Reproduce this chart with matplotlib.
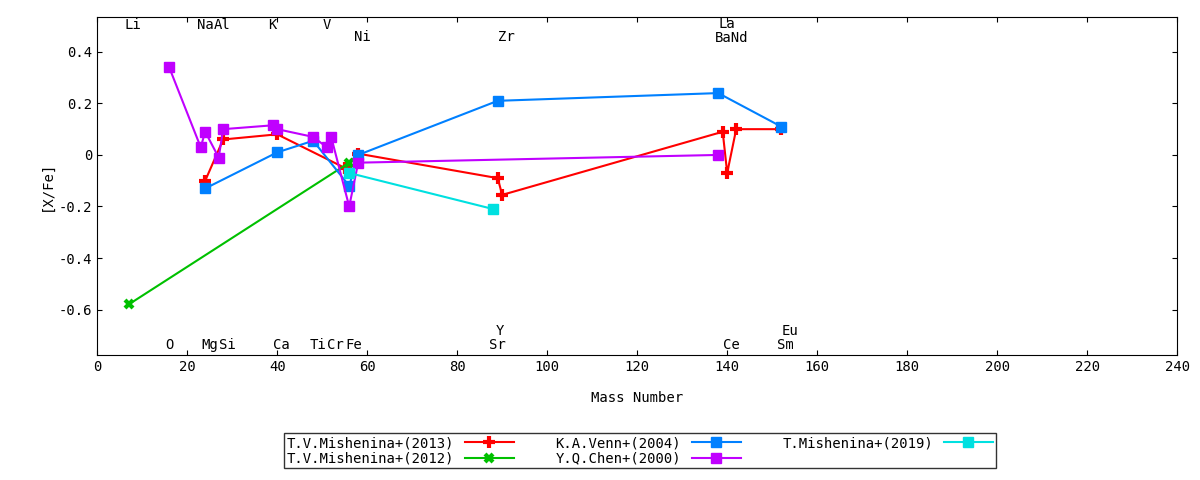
import matplotlib.pyplot as plt

plt.rcParams['font.family'] = ['DejaVu Sans Mono']
plt.rcParams['font.size'] = 10

red_x = [24, 28, 40, 55, 58, 89, 90, 139, 140, 142, 152]
red_y = [-0.10, 0.06, 0.08, -0.05, 0.005, -0.09, -0.155, 0.09, -0.07, 0.10, 0.10]
green_x = [7, 56]
green_y = [-0.58, -0.03]
blue_x = [24, 40, 48, 56, 58, 89, 138, 152]
blue_y = [-0.13, 0.01, 0.055, -0.12, 0.0, 0.21, 0.24, 0.11]
purple_x = [16, 23, 24, 27, 28, 39, 40, 48, 51, 52, 56, 58, 138]
purple_y = [0.34, 0.03, 0.09, -0.01, 0.10, 0.115, 0.10, 0.07, 0.03, 0.07, -0.20, -0.03, 0.0]
cyan_x = [56, 88]
cyan_y = [-0.07, -0.21]

top_labels = [("Li", 8, 0.505), ("Na", 24, 0.505), ("Al", 27.8, 0.505), ("K", 39, 0.505),
              ("V", 51, 0.505), ("La", 140, 0.51), ("Ni", 59, 0.458), ("Zr", 91, 0.458),
              ("BaNd", 141, 0.455)]
bottom_labels = [("O", 16, -0.738), ("Mg", 25, -0.738), ("Si", 29, -0.738), ("Ca", 41, -0.738),
                 ("Ti", 49, -0.738), ("Cr", 53, -0.738), ("Fe", 57, -0.738), ("Y", 89.5, -0.683),
                 ("Sr", 89, -0.738), ("Ce", 141, -0.738), ("Sm", 153, -0.738), ("Eu", 154, -0.683)]

fig = plt.figure(figsize=(12, 4.8), dpi=100)
ax = fig.add_axes([0.081, 0.26, 0.9, 0.705])

ax.plot(red_x, red_y, color='#ff0000', marker='+', ms=8, mew=3, lw=1.5, label='T.V.Mishenina+(2013)')
ax.plot(green_x, green_y, color='#00c000', marker='x', ms=6, mew=3, lw=1.5, label='T.V.Mishenina+(2012)')
ax.plot(blue_x, blue_y, color='#0080ff', marker='s', ms=7, lw=1.5, label='K.A.Venn+(2004)')
ax.plot(purple_x, purple_y, color='#c000ff', marker='s', ms=7, lw=1.5, label='Y.Q.Chen+(2000)')
ax.plot(cyan_x, cyan_y, color='#00e0e0', marker='s', ms=7, lw=1.5, label='T.Mishenina+(2019)')

for name, x, y in top_labels + bottom_labels:
    ax.text(x, y, name, ha='center', va='center')

ax.set_xlim(0, 240)
ax.set_ylim(-0.777, 0.536)
ax.set_xticks(range(0, 241, 20))
ax.set_yticks([-0.6, -0.4, -0.2, 0, 0.2, 0.4])
ax.set_yticklabels(['-0.6', '-0.4', '-0.2', '0', '0.2', '0.4'])
ax.tick_params(direction='in', top=True, right=True)
ax.set_xlabel('Mass Number', labelpad=12)
ax.set_ylabel('[X/Fe]')

fig.legend(loc='lower center', bbox_to_anchor=(0.533, 0.01), ncol=3, fancybox=False,
           edgecolor='black', markerfirst=False, handlelength=3.5, columnspacing=3.0,
           borderpad=0.2, labelspacing=0.1)

fig.savefig('out.png')
